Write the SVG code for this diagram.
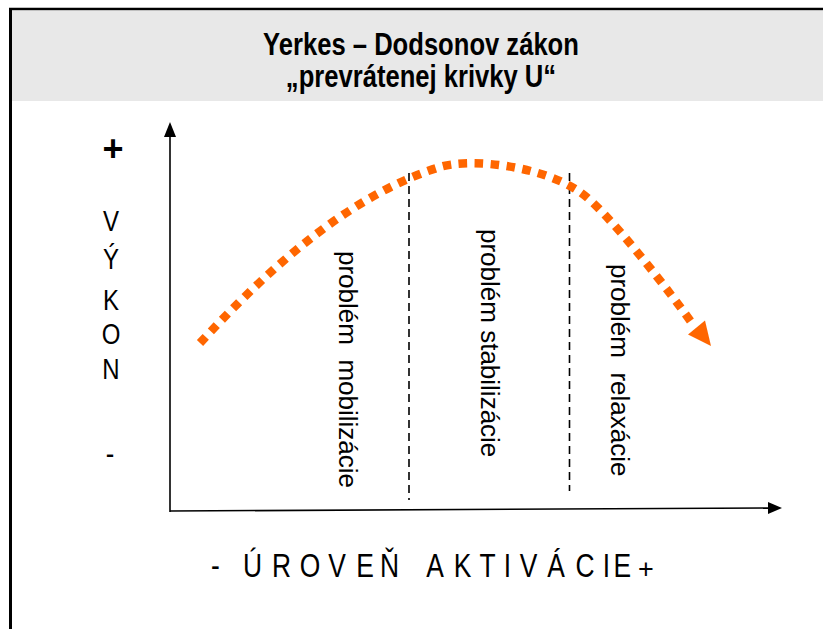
<svg xmlns="http://www.w3.org/2000/svg" width="823" height="629" viewBox="0 0 823 629">
<style>
.t{font-family:"Liberation Sans",Arial,sans-serif;fill:#000}
.b{font-weight:bold}
.axis{stroke:#000;stroke-width:1.6;fill:none}
.dash{stroke:#000;stroke-width:1.6;stroke-dasharray:8 5;fill:none}
.curve{stroke:#FF6600;stroke-width:8.5;stroke-dasharray:8.5 7.5;fill:none}
</style>
<rect width="823" height="629" fill="#fff"/>
<g id="frame">
<rect x="12" y="11" width="811" height="90" fill="#E8E8E8"/>
<line x1="9" y1="9" x2="823" y2="9" stroke="#000" stroke-width="2.5"/>
<line x1="10.5" y1="8" x2="10.5" y2="629" stroke="#000" stroke-width="3"/>
</g>
<g id="title" class="t b" font-size="32" text-anchor="middle">
<text transform="translate(421,55) scale(0.8,1)">Yerkes – Dodsonov zákon</text>
<text transform="translate(421,87) scale(0.8,1)">„prevrátenej krivky U“</text>
</g>
<g id="connectors">
<line class="axis" x1="170" y1="512" x2="170" y2="134"/>
<polygon points="170,122 164,137 176,137" fill="#000"/>
<line class="axis" x1="170" y1="511" x2="770" y2="508"/>
<polygon points="782,508 768,502 768,514" fill="#000"/>
<line class="dash" x1="409" y1="173" x2="409" y2="500"/>
<line class="dash" x1="569.5" y1="173" x2="569.5" y2="491"/>
<path class="curve" d="M200,343 C270,267 350,195 440,167 C470,158 540,165 580,192 C608,211 676,300 694,326"/>
<polygon points="711,346 688,334.5 705,320.5" fill="#FF6600"/>
</g>
<g id="y-label" class="t">
<text class="b" x="113" y="161" font-size="36" text-anchor="middle">+</text>
<g transform="scale(0.8,1)">
<text font-size="30" text-anchor="middle" x="138.75 138.75 138.75 138.75 138.75" y="231 269 310 344 379">VÝKON</text>
<text font-size="32" text-anchor="middle" x="137.5" y="464">-</text>
</g>
</g>
<g id="x-label" class="t">
<g transform="scale(0.8,1)">
<text font-size="33" text-anchor="middle" x="269.4 315.6 351.9 387.5 421.3 456.3 486.9 543.8 578.1 609.4 634.4 660.6 695 731.3 758.1 778" y="577">-ÚROVEŇAKTIVÁCIE</text>
</g>
<text font-size="27" text-anchor="middle" x="646" y="578">+</text>
</g>
<g id="zone-mobilizacie" class="t" font-size="26">
<text transform="translate(338.5,251) rotate(90)" xml:space="preserve">problém  mobilizácie</text>
</g>
<g id="zone-stabilizacie" class="t" font-size="26">
<text transform="translate(481,229) rotate(90)">problém stabilizácie</text>
</g>
<g id="zone-relaxacie" class="t" font-size="26">
<text transform="translate(611,264) rotate(90)" xml:space="preserve">problém  relaxácie</text>
</g>
</svg>
